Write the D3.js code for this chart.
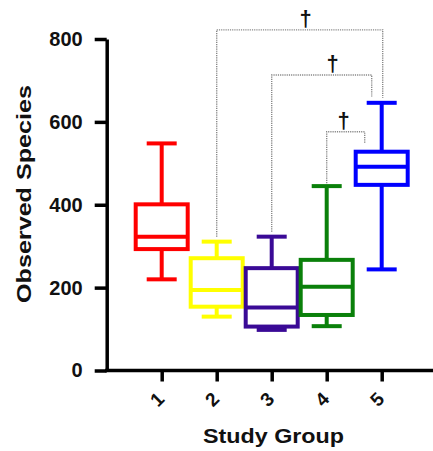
<!DOCTYPE html>
<html>
<head>
<meta charset="utf-8">
<script src="https://cdn.jsdelivr.net/npm/d3@7/dist/d3.min.js"></script>
<style>
  html, body { margin: 0; padding: 0; background: #fff; }
  svg { display: block; }
</style>
</head>
<body>
<svg id="chart" width="433" height="451"></svg>
<script>
// Study groups and box-plot summaries (observed species counts)
const groups = ["1", "2", "3", "4", "5"];
const whiskerLow  = [220, 130,  98, 107, 244];
const quartile1   = [293, 154, 106, 134, 448];
const medians     = [323, 194, 152, 202, 492];
const quartile3   = [401, 271, 247, 267, 528];
const whiskerHigh = [548, 311, 323, 445, 646];
const groupColors = ["#ff0000", "#ffff00", "#3a0a96", "#0a800a", "#0000ff"];

// Y axis ticks
const yTicks = [0, 200, 400, 600, 800];

// Pairwise comparisons marked significant (†): bracket level and drop ends in data units
const compFrom    = ["2", "3", "4"];
const compTo      = ["5", "5", "5"];
const compLevel   = [822, 713, 576];
const compFromEnd = [323, 335, 452];
const compToEnd   = [658, 661, 548];
const compMark    = ["\u2020", "\u2020", "\u2020"];

// drawing styles for the comparison brackets
const bracketInset = [-1, 10, 17];     // px pulled in from the right group centre
const markShift    = [6, 11, -2];      // px offset of the dagger from bracket centre

const FONT = "'Liberation Sans', Arial, Helvetica, sans-serif";
const svg = d3.select("#chart");

const y = d3.scaleLinear().domain([0, 800]).range([370.5, 39]);
const x = d3.scalePoint().domain(groups).range([106.7, 436.7]).padding(1);

const axisX0 = 106.7;

// ---- Y axis
const yAxis = svg.append("g")
  .attr("transform", `translate(${axisX0},0)`)
  .call(d3.axisLeft(y).tickValues(yTicks).tickSize(12).tickPadding(12).tickSizeOuter(0))
  .attr("font-size", 20).attr("font-weight", "bold").attr("font-family", FONT);
yAxis.select(".domain").attr("stroke", "#000").attr("stroke-width", 3.5);
yAxis.selectAll(".tick line").attr("stroke", "#000").attr("stroke-width", 3.5);
yAxis.selectAll(".tick text").attr("fill", "#111");

// ---- X axis
const xAxis = svg.append("g")
  .attr("transform", `translate(0,${y(0)})`)
  .call(d3.axisBottom(x).tickSize(11).tickSizeOuter(0))
  .attr("font-size", 19).attr("font-weight", "bold").attr("font-family", FONT);
xAxis.select(".domain").attr("stroke", "#000").attr("stroke-width", 3.5)
  .attr("d", `M${axisX0 - 1.7},0H440`);
xAxis.selectAll(".tick line").attr("stroke", "#000").attr("stroke-width", 3.5);
xAxis.selectAll(".tick text")
  .attr("fill", "#111")
  .attr("text-anchor", "middle")
  .attr("dominant-baseline", "central")
  .attr("y", 0).attr("dy", null)
  .attr("transform", "translate(-5,29) rotate(-45)");

// ---- Axis titles
svg.append("text")
  .attr("x", 273.5).attr("y", 443)
  .attr("text-anchor", "middle")
  .attr("textLength", 141).attr("lengthAdjust", "spacingAndGlyphs")
  .attr("font-size", 21).attr("font-weight", "bold").attr("font-family", FONT)
  .attr("fill", "#111")
  .text("Study Group");

svg.append("text")
  .attr("transform", "translate(31,194) rotate(-90)")
  .attr("text-anchor", "middle")
  .attr("textLength", 218).attr("lengthAdjust", "spacingAndGlyphs")
  .attr("font-size", 21).attr("font-weight", "bold").attr("font-family", FONT)
  .attr("fill", "#111")
  .text("Observed Species");

// ---- Box plots
const boxW = 52, capW = 30, sw = 4;
const boxes = groups.map((g, i) => ({
  g, lo: whiskerLow[i], q1: quartile1[i], med: medians[i],
  q3: quartile3[i], hi: whiskerHigh[i], color: groupColors[i]
}));

const bg = svg.append("g").attr("fill", "none").attr("stroke-width", sw);
const bx = bg.selectAll("g.box").data(boxes).join("g").attr("class", "box")
  .attr("stroke", d => d.color);

// whiskers
bx.append("line")
  .attr("x1", d => x(d.g)).attr("x2", d => x(d.g))
  .attr("y1", d => y(d.hi)).attr("y2", d => y(d.q3));
bx.append("line")
  .attr("x1", d => x(d.g)).attr("x2", d => x(d.g))
  .attr("y1", d => y(d.q1)).attr("y2", d => y(d.lo));
// caps
bx.append("line")
  .attr("x1", d => x(d.g) - capW / 2).attr("x2", d => x(d.g) + capW / 2)
  .attr("y1", d => y(d.hi)).attr("y2", d => y(d.hi));
bx.append("line")
  .attr("x1", d => x(d.g) - capW / 2).attr("x2", d => x(d.g) + capW / 2)
  .attr("y1", d => y(d.lo)).attr("y2", d => y(d.lo));
// box
bx.append("rect")
  .attr("x", d => x(d.g) - boxW / 2).attr("width", boxW)
  .attr("y", d => y(d.q3)).attr("height", d => y(d.q1) - y(d.q3));
// median
bx.append("line")
  .attr("x1", d => x(d.g) - boxW / 2).attr("x2", d => x(d.g) + boxW / 2)
  .attr("y1", d => y(d.med)).attr("y2", d => y(d.med));

// ---- Significance brackets
const comps = compFrom.map((a, i) => ({
  a, b: compTo[i], level: compLevel[i], aEnd: compFromEnd[i], bEnd: compToEnd[i],
  mark: compMark[i], inset: bracketInset[i], shift: markShift[i]
}));

const cg = svg.append("g");
comps.forEach(c => {
  const xa = x(c.a), xb = x(c.b) - c.inset;
  cg.append("path")
    .attr("d", `M${xa},${y(c.aEnd)}V${y(c.level)}H${xb}V${y(c.bEnd)}`)
    .attr("fill", "none")
    .attr("stroke", "#888")
    .attr("stroke-width", 1.4)
    .attr("stroke-dasharray", "1.2,1");
  cg.append("text")
    .attr("x", (xa + xb) / 2 + c.shift)
    .attr("y", y(c.level) - 4)
    .attr("text-anchor", "middle")
    .attr("font-size", 22).attr("font-weight", "bold").attr("font-family", FONT)
    .attr("fill", "#111")
    .text(c.mark);
});
</script>
</body>
</html>
